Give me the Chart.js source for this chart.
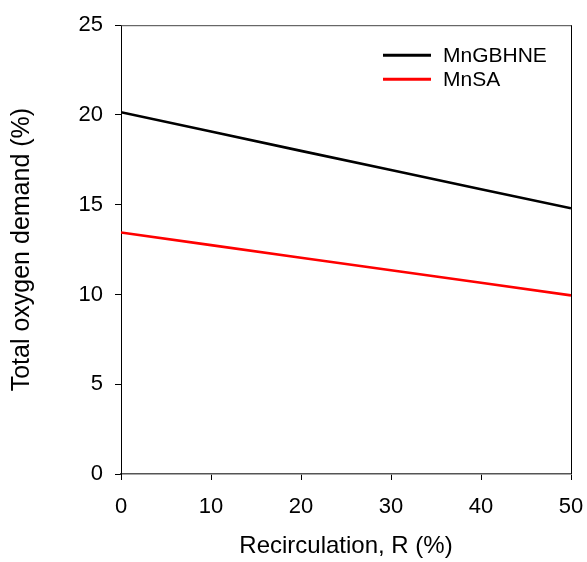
<!DOCTYPE html>
<html><head><meta charset="utf-8">
<script src="https://cdn.jsdelivr.net/npm/chart.js@4"></script>
<style>html,body{margin:0;padding:0;background:#fff}#wrap{width:587px;height:562px}</style>
</head><body><div id="wrap"><canvas id="c" width="587" height="562"></canvas></div>
<script>
const recirculation = [0, 10, 20, 30, 40, 50];
const mnGBHNE = [20.15, 19.08, 18.0, 16.93, 15.86, 14.8];
const mnSA = [13.45, 12.75, 12.05, 11.35, 10.65, 9.95];
const seriesLabels = ['MnGBHNE', 'MnSA'];
const seriesColors = ['#000000', '#ff0000'];
const xTitle = 'Recirculation, R (%)';
const yTitle = 'Total oxygen demand (%)';

const FONT = 'Arial, "Liberation Sans", sans-serif';

const boxPlugin = {
  id: 'box',
  afterDraw(chart) {
    const {ctx, chartArea: a} = chart;
    ctx.save();
    ctx.lineWidth = 1;
    ctx.strokeStyle = '#444';
    ctx.beginPath();
    ctx.moveTo(a.left, a.top + 0.5);
    ctx.lineTo(a.right, a.top + 0.5);
    ctx.stroke();
    ctx.strokeStyle = '#000';
    ctx.beginPath();
    ctx.moveTo(a.right + 0.5, a.top);
    ctx.lineTo(a.right + 0.5, a.bottom);
    ctx.stroke();
    // legend
    ctx.font = '21px ' + FONT;
    ctx.textBaseline = 'middle';
    chart.data.datasets.forEach((ds, i) => {
      const y = a.top + 30 + i * 24;
      ctx.strokeStyle = ds.borderColor;
      ctx.lineWidth = 3;
      ctx.beginPath();
      ctx.moveTo(a.left + 262, y);
      ctx.lineTo(a.left + 310, y);
      ctx.stroke();
      ctx.fillStyle = '#000';
      ctx.fillText(ds.label, a.left + 322, y + 1);
    });
    ctx.restore();
  }
};

new Chart(document.getElementById('c'), {
  type: 'line',
  data: {
    datasets: seriesLabels.map((label, k) => ({
      label,
      data: recirculation.map((x, i) => ({x, y: (k === 0 ? mnGBHNE : mnSA)[i]})),
      borderColor: seriesColors[k], borderWidth: 2.6, pointRadius: 0, fill: false
    }))
  },
  options: {
    responsive: false,
    animation: false,
    layout: {padding: {left: 0, right: 16, top: 24, bottom: 0}},
    plugins: {legend: {display: false}, tooltip: {enabled: false}},
    scales: {
      x: {
        type: 'linear', min: 0, max: 50,
        afterFit(s) { s.height = 88; s.paddingRight = 0; s.paddingLeft = 0; },
        ticks: {stepSize: 10, color: '#000', font: {size: 22, family: FONT}, padding: 14, maxRotation: 0},
        grid: {drawOnChartArea: false, drawTicks: true, tickLength: 6, color: '#000'},
        border: {color: '#555', width: 1.6},
        title: {display: true, text: xTitle, color: '#000', font: {size: 24, family: FONT}, padding: {top: 0, bottom: 1}}
      },
      y: {
        min: 0, max: 25,
        afterFit(s) { s.width = 121; },
        ticks: {stepSize: 5, color: '#000', font: {size: 22, family: FONT}, padding: 12},
        grid: {drawOnChartArea: false, drawTicks: true, tickLength: 6, color: '#000'},
        border: {color: '#000', width: 1},
        title: {display: true, text: yTitle, color: '#000', font: {size: 25, family: FONT}, padding: {top: 7, bottom: 0}}
      }
    }
  },
  plugins: [boxPlugin]
});
</script></body></html>
